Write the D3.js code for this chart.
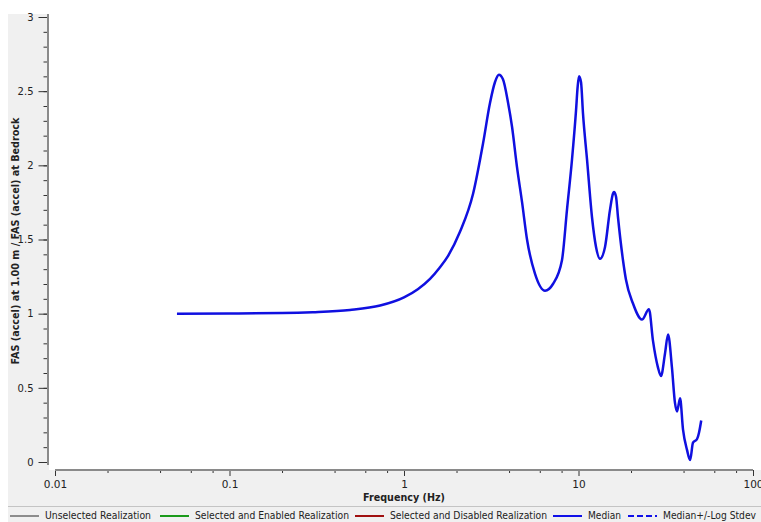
<!DOCTYPE html>
<html>
<head>
<meta charset="utf-8">
<script src="https://cdn.jsdelivr.net/npm/d3@7/dist/d3.min.js"></script>
<style>
  html, body { margin: 0; padding: 0; background: #ffffff; }
  svg { display: block; }
  text { font-family: "DejaVu Sans", "Liberation Sans", sans-serif; fill: #222; }
</style>
</head>
<body>
<svg id="chart" width="761" height="522"></svg>
<script>
// Frequency (Hz) of each sample along the median amplification curve
const frequency = [
  0.05, 0.1, 0.2, 0.3, 0.49, 0.73, 1.0, 1.2, 1.41, 1.6, 1.79, 2.09, 2.49, 2.84, 3.11, 3.32, 3.50,
  3.69, 3.95, 4.16, 4.44, 4.75, 5.07, 5.63, 6.43, 7.14, 8.04, 8.59, 9.18, 9.68, 9.89,
  10.07, 10.34, 10.61, 11.19, 11.95, 12.6, 13.28, 14.19, 15.15, 15.77, 15.97, 16.4,
  16.84, 17.99, 18.7, 20.5, 23.1, 25.35, 26.7, 28.5, 29.7, 31.3, 32.6, 34.3, 35.7,
  36.7, 38.2, 39.7, 41.9, 43.6, 45.3, 47.8, 49.0, 50.5
];
// Median ratio FAS(1.00 m) / FAS(bedrock)
const median = [
  1.0, 1.001, 1.004, 1.01, 1.025, 1.055, 1.11, 1.165, 1.235, 1.31, 1.39, 1.55, 1.81, 2.15, 2.42, 2.56, 2.61,
  2.58, 2.42, 2.26, 1.99, 1.75, 1.50, 1.27, 1.155, 1.20, 1.36, 1.70, 2.04, 2.37, 2.53,
  2.60, 2.56, 2.35, 2.04, 1.65, 1.45, 1.37, 1.45, 1.70, 1.81, 1.82, 1.79,
  1.65, 1.36, 1.23, 1.07, 0.96, 1.03, 0.82, 0.64, 0.58, 0.73, 0.86, 0.64, 0.40,
  0.34, 0.43, 0.22, 0.08, 0.013, 0.13, 0.155, 0.196, 0.28
];
const xMajorTicks = [0.01, 0.1, 1, 10, 100];
const xTickLabels = ["0.01", "0.1", "1", "10", "100"];
const yMajorTicks = [0, 0.5, 1, 1.5, 2, 2.5, 3];
const yTickLabels = ["0", "0.5", "1", "1.5", "2", "2.5", "3"];
const legendLabels = [
  "Unselected Realization",
  "Selected and Enabled Realization",
  "Selected and Disabled Realization",
  "Median",
  "Median+/-Log Stdev"
];
const legendColors = ["#8c8c8c", "#1a9a1a", "#a01010", "#1010e8", "#1010e8"];
const legendDashed = [false, false, false, false, true];

const svg = d3.select("#chart");
const W = 761, H = 522;
const tickFont = "'Liberation Sans', Arial, sans-serif";

// panel backgrounds
const panel = "#f0f0f0";
svg.append("rect").attr("x", 8).attr("y", 14).attr("width", 41).attr("height", H - 14).attr("fill", panel);
svg.append("rect").attr("x", 8).attr("y", 470).attr("width", W - 8).attr("height", H - 470).attr("fill", panel);
svg.append("line").attr("x1", 8).attr("x2", W).attr("y1", 506.5).attr("y2", 506.5)
  .attr("stroke", "#c4c4c4").attr("stroke-width", 1);

const x = d3.scaleLog().domain([0.01, 100]).range([55, 753]);
const y = d3.scaleLinear().domain([0, 3]).range([462, 17]);

const axisColor = "#8a8a8a";

// axis title on the left, drawn first so tick labels sit on top
svg.append("text").attr("transform", "translate(19,241) rotate(-90)")
  .attr("text-anchor", "middle").attr("font-size", 11).attr("font-weight", "bold")
  .attr("fill", "#222").attr("textLength", 247).attr("lengthAdjust", "spacingAndGlyphs")
  .text("FAS (accel) at 1.00 m / FAS (accel) at Bedrock");

// y axis
const yMinor = d3.range(0, 31).map(i => i / 10);
const gyMinor = svg.append("g").attr("transform", "translate(47.5,0)")
  .call(d3.axisLeft(y).tickValues(yMinor).tickSize(4).tickFormat(""));
const gy = svg.append("g").attr("transform", "translate(47.5,0)")
  .call(d3.axisLeft(y).tickValues(yMajorTicks).tickSize(9).tickPadding(5)
    .tickFormat((d, i) => yTickLabels[i]));
[gyMinor, gy].forEach(g => {
  g.select(".domain").remove();
  g.selectAll("line").attr("stroke", "#333").attr("stroke-width", 1);
});
gy.selectAll("text").attr("font-family", tickFont).attr("font-size", 10).attr("fill", "#333");
svg.append("line").attr("x1", 48).attr("x2", 48).attr("y1", y(3) - 3).attr("y2", y(0) + 3)
  .attr("stroke", axisColor).attr("stroke-width", 2);

// x axis
const xMinor = [];
xMajorTicks.slice(0, -1).forEach(d => [2, 4, 6, 8].forEach(m => xMinor.push(d * m)));
const gxMinor = svg.append("g").attr("transform", "translate(0,470)")
  .call(d3.axisBottom(x).tickValues(xMinor).tickSize(3).tickFormat(""));
const gx = svg.append("g").attr("transform", "translate(0,470)")
  .call(d3.axisBottom(x).tickValues(xMajorTicks).tickSize(6).tickPadding(5)
    .tickFormat((d, i) => xTickLabels[i]));
[gxMinor, gx].forEach(g => {
  g.select(".domain").remove();
  g.selectAll("line").attr("stroke", "#333").attr("stroke-width", 1);
});
gx.selectAll("text").attr("font-family", tickFont).attr("font-size", 10.5).attr("fill", "#333");
svg.append("line").attr("x1", x(0.01)).attr("x2", x(100)).attr("y1", 470).attr("y2", 470)
  .attr("stroke", axisColor).attr("stroke-width", 2);

// bottom axis title
svg.append("text").attr("x", x(1)).attr("y", 501).attr("text-anchor", "middle")
  .attr("font-size", 11).attr("font-weight", "bold").attr("fill", "#222")
  .attr("textLength", 82).attr("lengthAdjust", "spacingAndGlyphs")
  .text("Frequency (Hz)");

// median curve
const pts = frequency.map((f, i) => [f, median[i]]);
svg.append("path").datum(pts)
  .attr("fill", "none").attr("stroke", "#1010e0").attr("stroke-width", 2.5)
  .attr("stroke-linejoin", "round")
  .attr("d", d3.line().x(d => x(d[0])).y(d => y(d[1])).curve(d3.curveMonotoneX));

// legend
const legendX = [10, 160, 355, 553, 628];
const legendW = [106, 154, 157, 33, 93];
const lg = svg.append("g");
legendLabels.forEach((lab, i) => {
  lg.append("line").attr("x1", legendX[i]).attr("x2", legendX[i] + 29)
    .attr("y1", 516).attr("y2", 516)
    .attr("stroke", legendColors[i]).attr("stroke-width", 2)
    .attr("stroke-dasharray", legendDashed[i] ? "6,3" : null);
  lg.append("text").attr("x", legendX[i] + 35).attr("y", 519)
    .attr("font-family", tickFont)
    .attr("font-size", 10).attr("fill", "#333")
    .attr("textLength", legendW[i]).attr("lengthAdjust", "spacingAndGlyphs")
    .text(lab);
});
</script>
</body>
</html>
